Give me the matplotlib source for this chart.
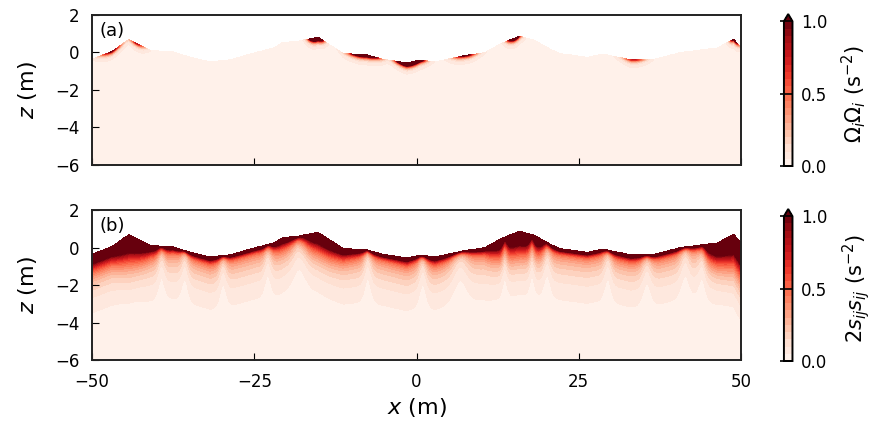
import numpy as np
import matplotlib.pyplot as plt

plt.rcParams['font.family'] = 'DejaVu Sans'
plt.rcParams['mathtext.fontset'] = 'dejavusans'

# free surface elevation (m)
x_surf = [-50, -47, -44.3, -41.1, -37.5, -34.9, -31.8, -28.7, -24.6, -22, -20.6, -18.4,
          -15.2, -13.3, -11.3, -7.6, -5.2, -1.5, 0.5, 2.8, 7.2, 10.5, 13.1, 15.9, 18.2,
          20.5, 22.1, 26.3, 28.7, 33.0, 36.4, 40.6, 43.2, 46.3, 48.9, 50]
eta_surf = [-0.35, 0.05, 0.70, 0.13, 0.03, -0.24, -0.50, -0.38, 0.02, 0.25, 0.55, 0.60,
            0.82, 0.40, -0.04, -0.12, -0.35, -0.55, -0.40, -0.50, -0.17, 0.0, 0.50, 0.88, 0.65,
            0.20, -0.05, -0.25, -0.08, -0.38, -0.38, 0.0, 0.12, 0.24, 0.72, 0.25]

# relative strain intensity below the surface, same x samples
strain_gain = [3, 3, 6, 2, 1, 1, 1.2, 1, 1, 1.5, 2, 1.5,
               3.5, 3, 2, 1, 1, 1.3, 1, 1.3, 1, 1.2, 3.5, 4.5, 3.5,
               1.3, 1, 1, 1, 1.2, 1, 1, 1, 4, 7, 8]

# light columns under the surface in (b)
gap_x = [-39.3, -35.7, -29.8, -22.9, -18.0, -7.5, 1.0, 6.7, 13.6, 17.8, 20.1, 29.5, 35.5, 41.4, 44.0]
gap_w = [0.8, 0.8, 0.8, 0.8, 1.6, 0.8, 0.8, 1.6, 0.6, 0.6, 0.8, 0.8, 1.0, 1.0, 0.8]

# vorticity patches near the surface in (a)
spot_x = [-47.0, -43.0, -15.5, -8.0, -1.0, 7.5, 15.0, 33.5, 49.0]
spot_w = [1.5, 1.0, 0.8, 1.8, 1.5, 1.5, 0.8, 1.5, 0.6]
spot_amp = [1.0, 0.8, 6.0, 3.0, 6.0, 1.2, 2.5, 0.8, 1.5]

x = np.linspace(-50, 50, 1200)
z = np.linspace(-6, 2, 500)
X, Z = np.meshgrid(x, z)
eta = np.interp(x, x_surf, eta_surf)
D = Z - eta[None, :]

gap = np.ones_like(x)
for gx, gw in zip(gap_x, gap_w):
    gap *= 1 - 0.6 * np.exp(-((x - gx) / gw) ** 2)
K = np.interp(x, x_surf, strain_gain)[None, :]
G = gap[None, :]
# dark surface layer gets thicker where the gain is high (crests)
strain = (1.5 * np.sqrt(G) * np.exp(D / (0.12 * K)) + 0.5 * K ** 0.7 * G * np.exp(D / 0.8)
          + 0.1 * G * np.exp(D / 2.5))
strain[D > 0] = np.nan

vort = 0.03 + 0.01 * np.exp(D / 2.0)
for sx, sw, sa in zip(spot_x, spot_w, spot_amp):
    vort = vort + sa * np.exp(-((X - sx) / sw) ** 2) * np.exp(D / 0.1)
vort[D > 0] = np.nan

fig = plt.figure(figsize=(8.72, 4.29), dpi=100)
ax1 = fig.add_axes([0.1055, 0.6154, 0.7443, 0.3497])
ax2 = fig.add_axes([0.1055, 0.1608, 0.7443, 0.3497])
cax1 = fig.add_axes([0.899, 0.613, 0.0098, 0.3543])
cax2 = fig.add_axes([0.899, 0.1585, 0.0098, 0.3543])

levels = np.linspace(0, 1, 21)
fields = [vort, strain]
labels = [r'$\Omega_i\Omega_i$ (s$^{-2}$)', r'$2s_{ij}s_{ij}$ (s$^{-2}$)']
for ax, cax, f, lab, tag in zip([ax1, ax2], [cax1, cax2], fields, labels, ['(a)', '(b)']):
    cf = ax.contourf(X, Z, f, levels=levels, cmap='Reds', extend='max')
    ax.set_xlim(-50, 50)
    ax.set_ylim(-6, 2)
    ax.set_yticks([-6, -4, -2, 0, 2])
    ax.set_xticks([-50, -25, 0, 25, 50])
    ax.tick_params(direction='in', length=5, pad=9, labelsize=12, top=False, right=False)
    for s in ax.spines.values():
        s.set_linewidth(1.4)
        s.set_color('#222222')
    ax.set_ylabel(r'$z$ (m)', fontsize=16)
    ax.text(0.012, 0.86, tag, transform=ax.transAxes, fontsize=13)
    cb = fig.colorbar(cf, cax=cax, ticks=[0, 0.5, 1])
    cb.ax.set_yticklabels(['0.0', '0.5', '1.0'])
    cb.ax.tick_params(direction='in', length=9, width=1.2, pad=6, labelsize=12)
    cb.outline.set_linewidth(1.4)
    cb.set_label(lab, fontsize=15, labelpad=9)

ax1.set_xticklabels([])
ax2.set_xlabel(r'$x$ (m)', fontsize=16)
ax1.yaxis.set_label_coords(-0.082, 0.5)
ax2.yaxis.set_label_coords(-0.082, 0.5)

fig.savefig('out.png', dpi=100)
